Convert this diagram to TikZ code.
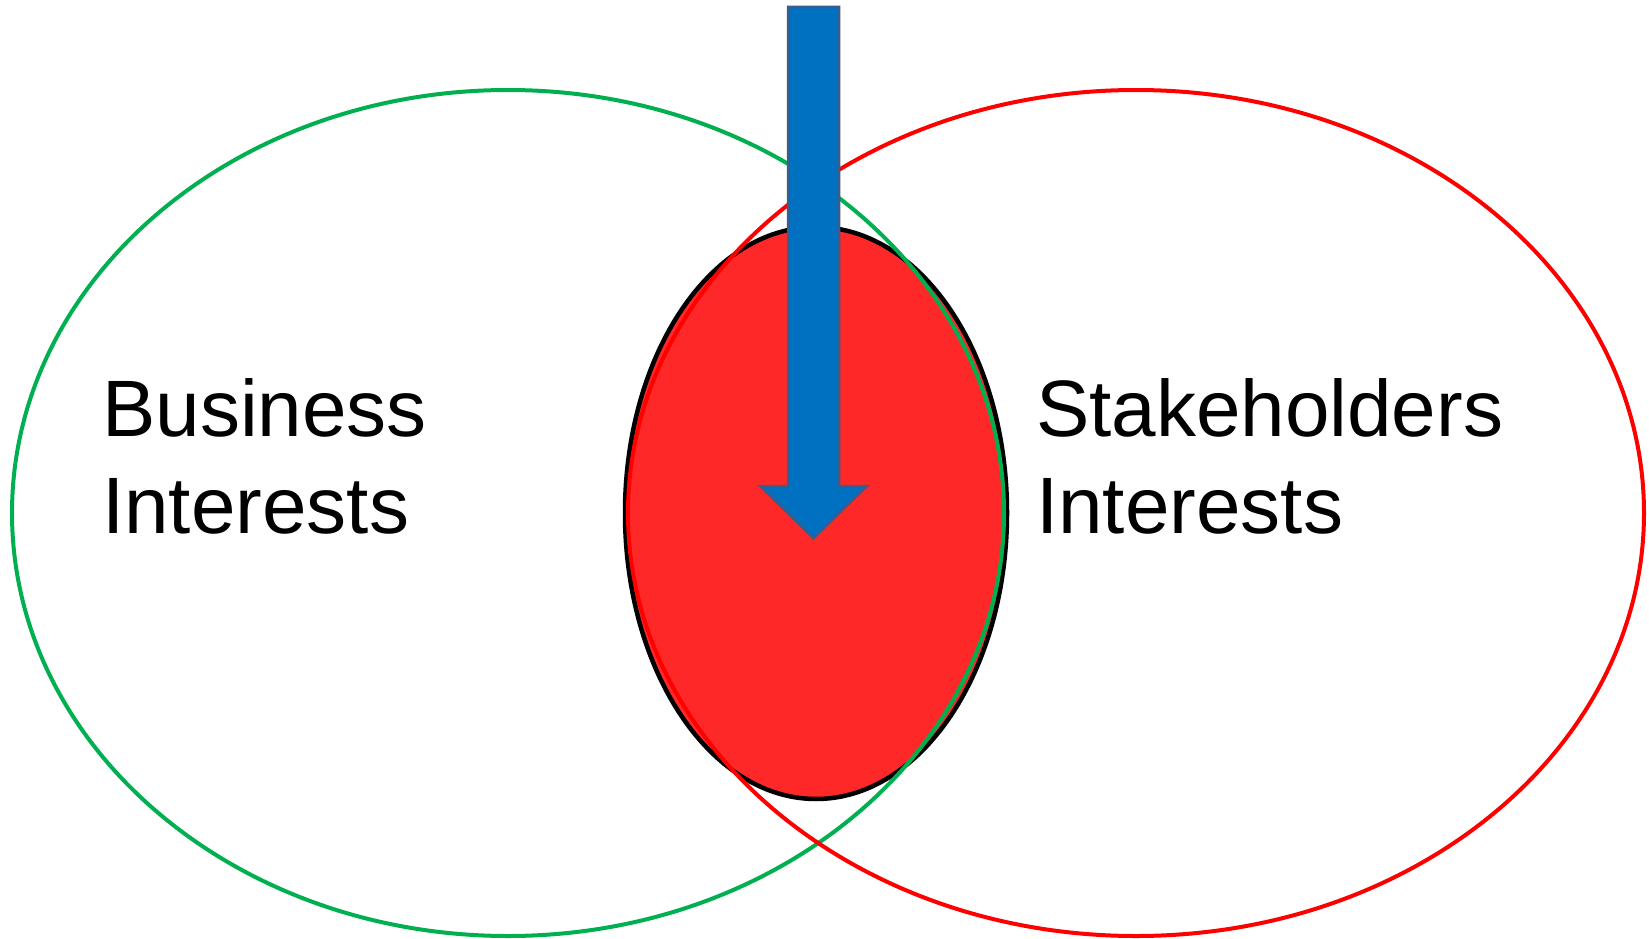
\documentclass[tikz,border=0pt]{standalone}
\usepackage{fontspec}
\setmainfont{Liberation Sans}
\usepackage{tikz}
\usetikzlibrary{shapes.geometric}
\usetikzlibrary{positioning}
\definecolor{setgreen}{RGB}{0,176,80}
\definecolor{setred}{RGB}{255,0,0}
\definecolor{overlapred}{RGB}{255,40,40}
\definecolor{arrowblue}{RGB}{0,112,192}
\definecolor{arrowedge}{RGB}{58,94,140}
\tikzset{
interest_set/.style={ellipse, draw, line width=4pt, minimum width=992pt, minimum height=846pt, inner sep=0pt},
overlap/.style={ellipse, draw=black, fill=overlapred, line width=4.5pt, minimum width=382pt, minimum height=572pt, inner sep=0pt},
set_label/.style={anchor=base west, align=left, inner sep=0pt, font=\fontsize{80}{97}\selectfont},
focus_arrow/.style={fill=arrowblue, draw=arrowedge, line width=2.5pt, line join=miter}
}

\begin{document}
\begin{tikzpicture}[x=1pt, y=-1pt]
    \useasboundingbox (0,0) rectangle (1649,939);
    \node[overlap] (common) at (816,513) {};
    \node[interest_set, draw=setgreen] (business) at (508,513) {};
    \node[interest_set, draw=setred, minimum width=1016pt] (stake) at (1136,513) {};
    \node[set_label] (business_label) at (102,533) {Business\\Interests};
    \node[set_label] (stake_label) at (1036,533) {Stakeholders\\Interests};
    \draw[focus_arrow] (788,7) -- (839,7) -- (839,486) -- (867,486) -- (813.5,538) -- (760,486) -- (788,486) -- cycle;
\end{tikzpicture}
\end{document}
